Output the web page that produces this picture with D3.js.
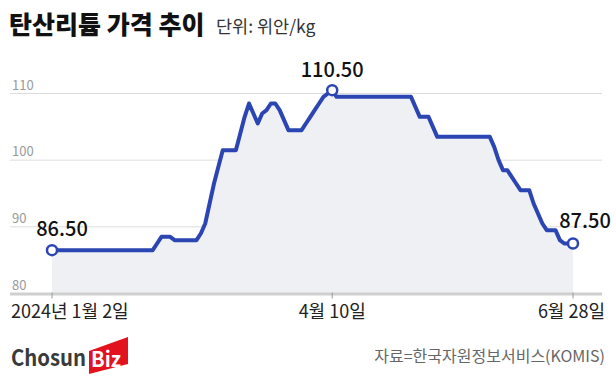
<!DOCTYPE html>
<html>
<head>
<meta charset="utf-8">
<script src="https://cdn.jsdelivr.net/npm/d3@7"></script>
<style>
	body { margin: 0; background: #fff; }
	svg text { font-family: "Noto Sans CJK KR", "Noto Sans", sans-serif; }
</style>
</head>
<body>
<svg id="mainsvg" width="616" height="382"></svg>
<script>
// daily price, 위안/kg (one value per trading day, 2024-01-02 .. 2024-06-28)
var prices = [
	86.5, 86.5, 86.5, 86.5, 86.5, 86.5, 86.5, 86.5, 86.5, 86.5, 86.5, 86.5,
	86.5, 86.5, 86.5, 86.5, 86.5, 86.5, 86.5, 86.5, 86.5, 86.5, 86.5, 86.5,
	87.5, 88.5, 88.5, 88.5, 88, 88, 88, 88, 88, 88,
	89, 90.5, 93.5, 96.5, 99, 101.5, 101.5, 101.5, 101.5,
	104, 106.5, 108.5, 107, 105.5, 107, 107.5, 108.5, 108.5, 107.5, 106,
	104.5, 104.5, 104.5, 104.5,
	105.5, 106.5, 107.5, 108.5, 109.5, 110, 110.5,
	109.5, 109.5, 109.5, 109.5, 109.5, 109.5, 109.5, 109.5, 109.5,
	109.5, 109.5, 109.5, 109.5, 109.5, 109.5, 109.5, 109.5, 109.5,
	108, 106.5, 106.5, 106.5, 105,
	103.5, 103.5, 103.5, 103.5, 103.5, 103.5, 103.5, 103.5, 103.5, 103.5, 103.5, 103.5, 103.5,
	102, 100, 98.5, 98.5, 97.5, 96.5, 95.5, 95.5, 95.5,
	93.5, 92, 90.5, 89.5, 89.5, 89.5, 88, 87.5, 87.5, 87.5
];
var xTickIdx = [0, 64, 119];
var xTickLabels = ["2024년 1월 2일", "4월 10일", "6월 28일"];
var yTicks = [80, 90, 100, 110];
var callIdx = [0, 64, 119];

var svg = d3.select("#mainsvg");
var blue = "#2b45b3";

var x = d3.scaleLinear().domain([0, prices.length - 1]).range([52, 573]);
var y = d3.scaleLinear().domain([80, 110]).range([293.5, 93.5]);

// title
svg.append("text")
	.attr("x", 9).attr("y", 34)
	.attr("font-size", 25).attr("font-weight", 900).attr("fill", "#111")
	.text("탄산리튬 가격 추이");
svg.append("text")
	.attr("x", 216).attr("y", 33)
	.attr("font-size", 17.5).attr("fill", "#333")
	.text("단위: 위안/kg");

// grid
var grid = svg.append("g");
grid.selectAll("line")
	.data(yTicks.slice(1))
	.enter().append("line")
	.attr("x1", 10).attr("x2", 602)
	.attr("y1", function(d) { return y(d); })
	.attr("y2", function(d) { return y(d); })
	.attr("stroke", "#dcdcdc").attr("stroke-width", 1);
grid.selectAll("text")
	.data(yTicks)
	.enter().append("text")
	.attr("x", 12)
	.attr("y", function(d) { return y(d) - 4; })
	.attr("font-size", 13).attr("fill", "#9a9a9a")
	.text(function(d) { return d; });

// area + line
var area = d3.area()
	.x(function(d, i) { return x(i); })
	.y0(y(80))
	.y1(function(d) { return y(d); });
svg.append("path")
	.datum(prices)
	.attr("d", area)
	.attr("fill", "#eef0f4");

// baseline
svg.append("line")
	.attr("x1", 10).attr("x2", 602)
	.attr("y1", y(80) + 0.5).attr("y2", y(80) + 0.5)
	.attr("stroke", "#cfcfcf").attr("stroke-width", 3);
svg.selectAll(".xtick")
	.data(xTickIdx)
	.enter().append("line")
	.attr("class", "xtick")
	.attr("x1", function(d) { return x(d); })
	.attr("x2", function(d) { return x(d); })
	.attr("y1", y(80) - 1).attr("y2", y(80) + 5)
	.attr("stroke", "#999").attr("stroke-width", 1);

var line = d3.line()
	.x(function(d, i) { return x(i); })
	.y(function(d) { return y(d); });
svg.append("path")
	.datum(prices)
	.attr("d", line)
	.attr("fill", "none")
	.attr("stroke", blue)
	.attr("stroke-width", 4)
	.attr("stroke-linejoin", "round");

// x labels
svg.selectAll(".xlab")
	.data(xTickIdx)
	.enter().append("text")
	.attr("class", "xlab")
	.attr("x", function(d, i) { return i == 0 ? 11 : (i == 2 ? 605 : x(d)); })
	.attr("y", 318)
	.attr("text-anchor", function(d, i) { return i == 0 ? "start" : (i == 2 ? "end" : "middle"); })
	.attr("font-size", 18).attr("fill", "#222")
	.text(function(d, i) { return xTickLabels[i]; });

// callouts
var pts = svg.append("g");
pts.selectAll("circle")
	.data(callIdx)
	.enter().append("circle")
	.attr("cx", function(d) { return x(d); })
	.attr("cy", function(d) { return y(prices[d]); })
	.attr("r", 5)
	.attr("fill", "#fff")
	.attr("stroke", blue).attr("stroke-width", 2.5);
var labOff = [[10, -14], [0, -13], [12, -16]];
pts.selectAll("text")
	.data(callIdx)
	.enter().append("text")
	.attr("x", function(d, i) { return x(d) + labOff[i][0]; })
	.attr("y", function(d, i) { return y(prices[d]) + labOff[i][1]; })
	.attr("text-anchor", "middle")
	.attr("font-size", 20).attr("font-weight", 500).attr("fill", "#111")
	.text(function(d) { return prices[d].toFixed(2); });

// footer
svg.append("text")
	.attr("x", 605).attr("y", 362)
	.attr("text-anchor", "end")
	.attr("font-size", 16).attr("fill", "#666")
	.text("자료=한국자원정보서비스(KOMIS)");

var logo = svg.append("g");
logo.append("text")
	.attr("x", 11).attr("y", 366)
	.attr("font-family", "Roboto, sans-serif")
	.attr("font-size", 22).attr("font-weight", 700).attr("fill", "#3a3a3a")
	.attr("textLength", 75).attr("lengthAdjust", "spacingAndGlyphs")
	.text("Chosun");
logo.append("path")
	.attr("d", "M89,351 L128,337 L128,364 L89,374 Z")
	.attr("fill", "#e2121f");
logo.append("text")
	.attr("x", 91).attr("y", 367)
	.attr("font-family", "Roboto, sans-serif")
	.attr("font-size", 21).attr("font-weight", 700).attr("fill", "#fff")
	.attr("textLength", 30).attr("lengthAdjust", "spacingAndGlyphs")
	.text("Biz");
</script>
</body>
</html>
